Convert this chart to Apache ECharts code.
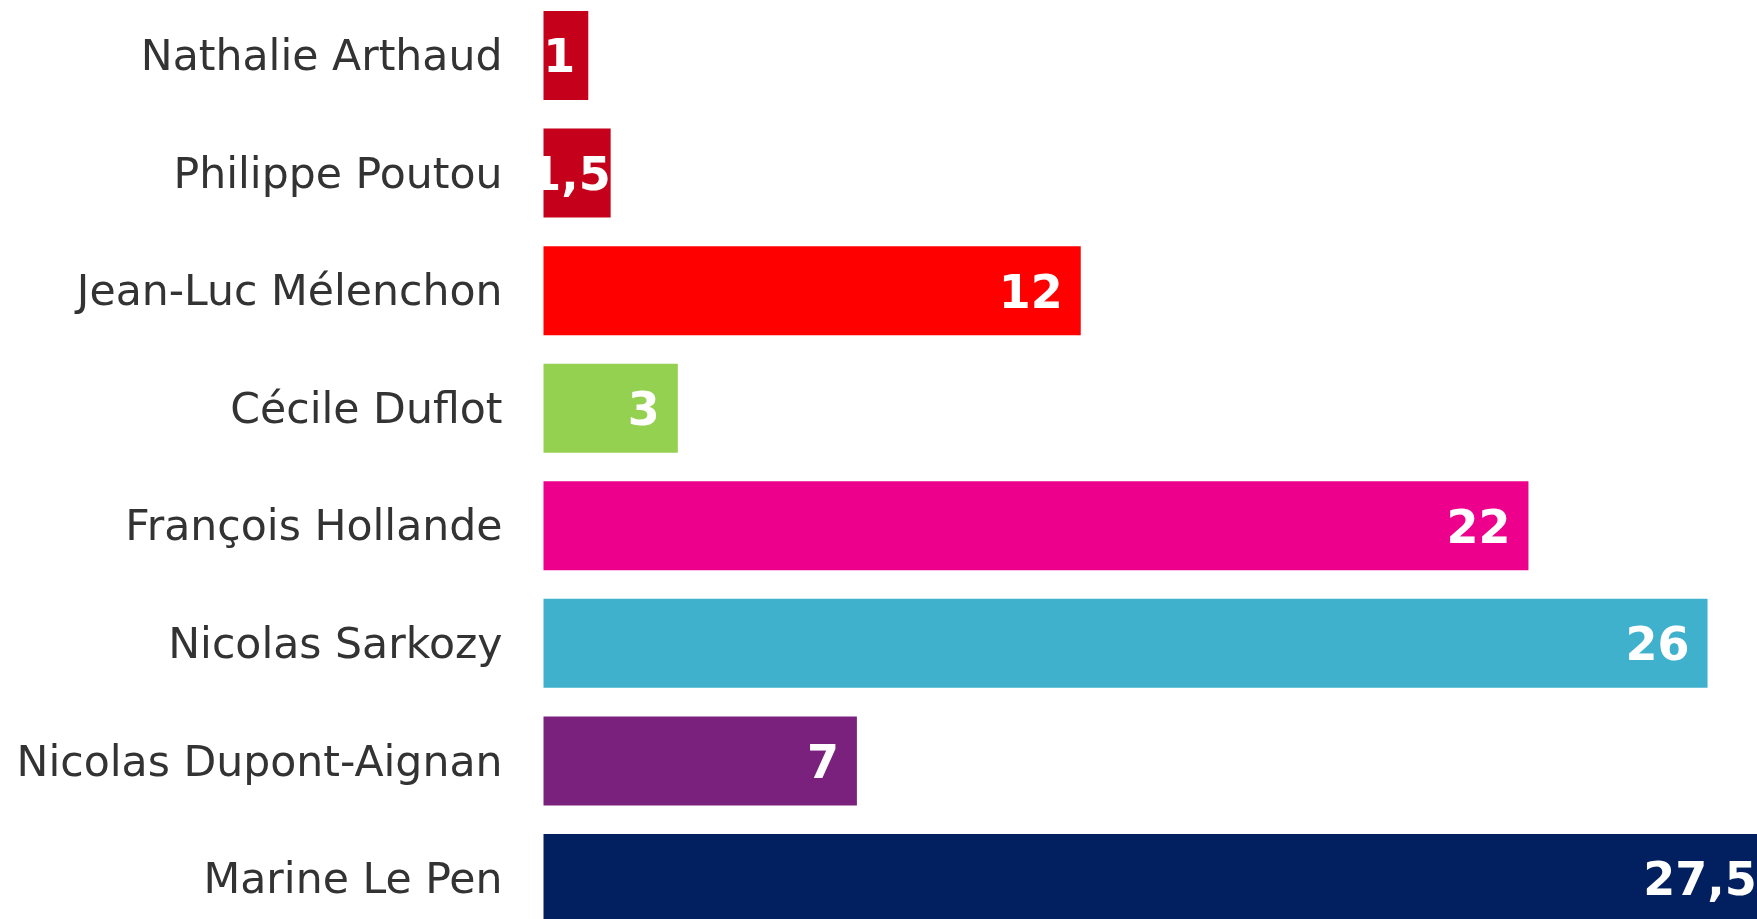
<!DOCTYPE html>
<html>
<head>
<meta charset="utf-8">
<script src="https://cdn.jsdelivr.net/npm/echarts@6/dist/echarts.min.js"></script>
<style>
  html, body { margin: 0; padding: 0; background: #fff; }
  #chart { width: 1757px; height: 919px; }
</style>
</head>
<body>
<div id="chart"></div>
<script>
const candidates = [
  "Nathalie Arthaud",
  "Philippe Poutou",
  "Jean-Luc Mélenchon",
  "Cécile Duflot",
  "François Hollande",
  "Nicolas Sarkozy",
  "Nicolas Dupont-Aignan",
  "Marine Le Pen",
];
const scores = [1, 1.5, 12, 3, 22, 26, 7, 27.5];
const colors = ["#c5001a", "#c5001a", "#ff0000", "#94d150", "#ec008c", "#40b1cd", "#7a217e", "#02205f"];

const chart = echarts.init(document.getElementById("chart"));

// small bars: label is pushed to the bar end (text spills over the white on the left)
const labelDistance = (v) => (v < 1.2 ? 13 : v < 2 ? 0 : 18);

chart.setOption({
  animation: false,
  grid: {
    left: 543.5,
    right: -17.7,
    top: -3.3,
    bottom: -18.3,
    containLabel: false,
    outerBoundsMode: "none",
  },
  xAxis: {
    type: "value",
    min: 0,
    max: 27.5,
    show: false,
  },
  yAxis: {
    type: "category",
    inverse: true,
    data: candidates,
    axisLine: { show: false },
    axisTick: { show: false },
    axisLabel: { show: false },
  },
  series: [
    {
      type: "bar",
      barWidth: 89,
      data: scores.map((v, i) => ({
        value: v,
        itemStyle: { color: colors[i] },
        label: { distance: labelDistance(v) },
      })),
      label: {
        show: true,
        position: "insideRight",
        offset: [0, 5],
        fontFamily: "DejaVu Sans",
        fontWeight: "bold",
        fontSize: 46,
        color: "#ffffff",
        formatter: (p) => String(p.value).replace(".", ","),
      },
    },
    {
      // candidate names, drawn left of the bars so they can be nudged vertically
      type: "bar",
      barWidth: 89,
      barGap: "-100%",
      silent: true,
      data: scores,
      itemStyle: { color: "rgba(0,0,0,0)" },
      label: {
        show: true,
        position: "left",
        distance: 41,
        offset: [0, 3.5],
        fontFamily: "DejaVu Sans",
        fontSize: 42.6,
        color: "#333333",
        formatter: (p) => candidates[p.dataIndex],
      },
    },
  ],
});
</script>
</body>
</html>
